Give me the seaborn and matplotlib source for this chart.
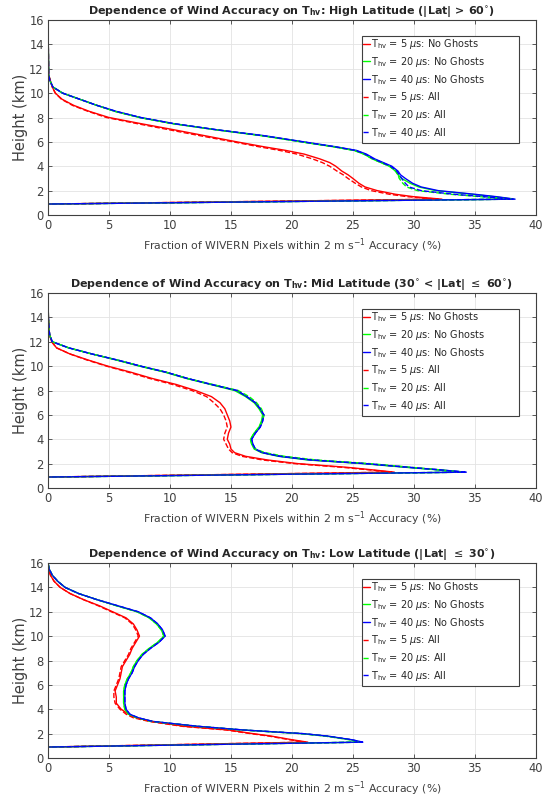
import matplotlib
matplotlib.use('Agg')
import matplotlib.pyplot as plt
from matplotlib.patches import Rectangle
import seaborn as sns

# --- High latitude (|Lat| > 60) ---
h_high = [0, 0.9, 1.3, 1.5, 1.7, 2.0, 2.3, 2.6, 3.0, 3.3, 3.6, 4.0, 4.3, 4.6, 5.0, 5.3, 5.6, 6.0,
          6.5, 7.0, 7.5, 8.0, 8.5, 9.0, 9.5, 10.0, 10.5, 11.0, 11.5, 16.0]
high_5_ng = [0, 0, 32.3, 30.0, 28.5, 27.0, 26.0, 25.5, 25.0, 24.6, 24.1, 23.6, 23.1, 22.3, 21.0, 19.5,
             17.7, 15.5, 12.9, 10.3, 7.6, 5.0, 3.4, 2.1, 1.15, 0.6, 0.35, 0.2, 0.05, 0]
high_20_ng = [0, 0, 38.2, 36.6, 34.8, 31.8, 30.4, 29.7, 29.0, 28.7, 28.5, 28.0, 27.3, 26.6, 25.9, 25.1,
              23.4, 20.8, 17.6, 13.7, 10.2, 7.5, 5.5, 4.0, 2.6, 1.2, 0.4, 0.17, 0.05, 0]
high_40_ng = [0, 0, 38.3, 36.8, 35.0, 32.0, 30.6, 29.9, 29.3, 28.9, 28.7, 28.2, 27.5, 26.8, 26.1, 25.3,
              23.6, 21.0, 17.8, 13.8, 10.3, 7.6, 5.6, 4.0, 2.6, 1.2, 0.4, 0.17, 0.05, 0]
high_5_all = [0, 0, 32.0, 29.5, 28.0, 26.5, 25.7, 25.2, 24.6, 24.2, 23.7, 23.1, 22.5, 21.7, 20.4, 19.0,
              17.3, 15.2, 12.5, 9.9, 7.3, 4.8, 3.3, 2.0, 1.1, 0.6, 0.35, 0.2, 0.05, 0]
high_20_all = [0, 0, 38.0, 35.5, 33.0, 30.3, 29.4, 29.1, 28.8, 28.7, 28.5, 28.0, 27.3, 26.6, 25.9, 25.1,
               23.4, 20.8, 17.6, 13.7, 10.2, 7.5, 5.5, 4.0, 2.6, 1.2, 0.4, 0.17, 0.05, 0]
high_40_all = [0, 0, 38.1, 35.8, 33.3, 30.6, 29.6, 29.3, 29.0, 28.8, 28.6, 28.1, 27.4, 26.7, 26.0, 25.2,
               23.5, 20.9, 17.7, 13.8, 10.3, 7.6, 5.6, 4.0, 2.6, 1.2, 0.4, 0.17, 0.05, 0]

# --- Mid latitude (30 < |Lat| <= 60) ---
h_mid = [0, 0.9, 1.3, 1.5, 1.7, 2.0, 2.3, 2.6, 2.9, 3.2, 3.6, 4.0, 4.5, 5.0, 5.5, 6.0, 6.5, 7.0,
         7.5, 8.0, 8.5, 9.0, 9.5, 10.0, 10.5, 11.0, 11.5, 12.0, 12.5, 13.0, 14.0, 16.0]
mid_5_ng = [0, 0, 28.4, 26.5, 24.5, 20.5, 18.0, 16.2, 15.3, 15.0, 14.9, 14.7, 14.8, 15.0, 14.9, 14.7,
            14.5, 14.1, 13.4, 12.1, 10.5, 8.5, 6.8, 4.9, 3.3, 1.8, 0.7, 0.3, 0.15, 0.08, 0.03, 0]
mid_20_ng = [0, 0, 34.2, 31.8, 29.3, 25.8, 21.3, 18.9, 17.5, 16.9, 16.7, 16.6, 16.9, 17.3, 17.5, 17.6,
             17.3, 16.9, 16.2, 15.3, 13.3, 11.3, 9.6, 7.5, 5.6, 3.6, 1.7, 0.35, 0.15, 0.08, 0.03, 0]
mid_40_ng = [0, 0, 34.3, 32.0, 29.5, 26.0, 21.5, 19.0, 17.6, 17.0, 16.8, 16.7, 17.0, 17.4, 17.6, 17.7,
             17.4, 17.0, 16.3, 15.5, 13.4, 11.4, 9.7, 7.6, 5.7, 3.6, 1.7, 0.35, 0.15, 0.08, 0.03, 0]
mid_5_all = [0, 0, 28.2, 26.2, 24.1, 20.2, 17.6, 15.9, 15.1, 14.8, 14.6, 14.4, 14.5, 14.7, 14.6, 14.4,
             14.1, 13.6, 13.0, 11.8, 10.2, 8.3, 6.6, 4.8, 3.2, 1.8, 0.7, 0.3, 0.15, 0.08, 0.03, 0]
mid_20_all = [0, 0, 34.0, 32.0, 29.8, 26.4, 22.0, 19.4, 17.8, 17.0, 16.7, 16.6, 16.9, 17.3, 17.6, 17.7,
              17.5, 17.1, 16.5, 15.6, 13.5, 11.4, 9.7, 7.6, 5.7, 3.6, 1.7, 0.35, 0.15, 0.08, 0.03, 0]
mid_40_all = [0, 0, 34.2, 32.0, 29.6, 26.1, 21.7, 19.1, 17.6, 17.0, 16.8, 16.7, 17.0, 17.4, 17.6, 17.7,
              17.4, 17.0, 16.3, 15.5, 13.4, 11.4, 9.7, 7.6, 5.7, 3.6, 1.7, 0.35, 0.15, 0.08, 0.03, 0]

# --- Low latitude (|Lat| <= 30) ---
h_low = [0, 0.9, 1.3, 1.5, 1.8, 2.0, 2.3, 2.6, 3.0, 3.3, 3.6, 4.0, 4.5, 5.0, 5.5, 6.0, 6.5, 7.0,
         7.5, 8.0, 8.5, 9.0, 9.5, 10.0, 10.5, 11.0, 11.5, 12.0, 12.5, 13.0, 13.5, 14.0, 14.5, 15.0,
         15.5, 16.0]
low_5_ng = [0, 0, 21.3, 20.0, 18.3, 16.8, 14.8, 11.2, 8.5, 7.2, 6.6, 6.0, 5.6, 5.6, 5.5, 5.7, 5.9, 6.0,
            6.1, 6.4, 6.7, 6.9, 7.2, 7.5, 7.3, 7.0, 6.4, 5.3, 4.2, 2.9, 1.8, 1.0, 0.5, 0.2, 0.05, 0]
low_20_ng = [0, 0, 25.7, 24.8, 22.8, 20.8, 15.9, 12.2, 8.5, 7.3, 6.6, 6.3, 6.2, 6.2, 6.2, 6.3, 6.5, 6.8,
             7.0, 7.3, 7.7, 8.3, 9.0, 9.5, 9.3, 8.9, 8.3, 7.3, 5.6, 4.0, 2.5, 1.4, 0.8, 0.35, 0.1, 0]
low_40_ng = [0, 0, 25.8, 24.9, 22.9, 20.9, 16.0, 12.3, 8.6, 7.4, 6.7, 6.4, 6.3, 6.3, 6.3, 6.4, 6.6, 6.9,
             7.1, 7.4, 7.8, 8.4, 9.1, 9.6, 9.4, 9.0, 8.4, 7.4, 5.7, 4.0, 2.5, 1.4, 0.8, 0.35, 0.1, 0]
low_5_all = [0, 0, 21.1, 19.8, 18.1, 16.6, 14.6, 11.0, 8.3, 7.0, 6.4, 5.9, 5.5, 5.4, 5.4, 5.6, 5.8, 5.9,
             6.0, 6.3, 6.6, 6.8, 7.1, 7.4, 7.2, 6.9, 6.3, 5.2, 4.1, 2.9, 1.8, 1.0, 0.5, 0.2, 0.05, 0]
low_20_all = [0, 0, 25.5, 24.7, 22.7, 20.7, 15.9, 12.2, 8.5, 7.3, 6.6, 6.3, 6.2, 6.2, 6.2, 6.3, 6.5, 6.8,
              7.0, 7.3, 7.7, 8.3, 9.0, 9.5, 9.3, 8.9, 8.3, 7.3, 5.6, 4.0, 2.5, 1.4, 0.8, 0.35, 0.1, 0]
low_40_all = [0, 0, 25.8, 24.9, 22.9, 20.9, 16.0, 12.3, 8.6, 7.4, 6.7, 6.4, 6.3, 6.3, 6.3, 6.4, 6.6, 6.9,
              7.1, 7.4, 7.8, 8.4, 9.1, 9.6, 9.4, 9.0, 8.4, 7.4, 5.7, 4.0, 2.5, 1.4, 0.8, 0.35, 0.1, 0]

titles = [
    r'Dependence of Wind Accuracy on T$_\mathbf{hv}$: High Latitude (|Lat| > 60$^{\circ}$)',
    r'Dependence of Wind Accuracy on T$_\mathbf{hv}$: Mid Latitude (30$^{\circ}$ < |Lat| $\leq$ 60$^{\circ}$)',
    r'Dependence of Wind Accuracy on T$_\mathbf{hv}$: Low Latitude (|Lat| $\leq$ 30$^{\circ}$)',
]
labels = [
    r'T$_{\rm hv}$ = 5 $\mu$s: No Ghosts',
    r'T$_{\rm hv}$ = 20 $\mu$s: No Ghosts',
    r'T$_{\rm hv}$ = 40 $\mu$s: No Ghosts',
    r'T$_{\rm hv}$ = 5 $\mu$s: All',
    r'T$_{\rm hv}$ = 20 $\mu$s: All',
    r'T$_{\rm hv}$ = 40 $\mu$s: All',
]
colors = ['#ff0000', '#00ff00', '#0000ff', '#ff0000', '#00ff00', '#0000ff']
styles = ['-', '-', '-', '--', '--', '--']

panels = [
    (h_high, [high_5_ng, high_20_ng, high_40_ng, high_5_all, high_20_all, high_40_all]),
    (h_mid, [mid_5_ng, mid_20_ng, mid_40_ng, mid_5_all, mid_20_all, mid_40_all]),
    (h_low, [low_5_ng, low_20_ng, low_40_ng, low_5_all, low_20_all, low_40_all]),
]

sns.set_style('whitegrid', {'grid.color': '#e3e3e3', 'axes.edgecolor': '#404040'})
plt.rcParams['font.family'] = ['DejaVu Sans']
plt.rcParams['mathtext.fontset'] = 'dejavusans'

fig = plt.figure(figsize=(5.42, 8.0), dpi=100)
bottoms = [0.73125, 0.39, 0.0525]
grey = '#404040'

for i, (heights, series) in enumerate(panels):
    ax = fig.add_axes([0.0886, bottoms[i], 0.900, 0.2437])
    for vals, c, ls, lab in zip(series, colors, styles, labels):
        sns.lineplot(x=vals, y=heights, sort=False, estimator=None, color=c,
                     linestyle=ls, linewidth=1.0, label=lab, ax=ax)
    ax.set_xlim(0, 40)
    ax.set_ylim(0, 16)
    ax.set_xticks(range(0, 41, 5))
    ax.set_yticks(range(0, 17, 2))
    ax.tick_params(direction='in', length=3, width=0.6, colors=grey, labelsize=8.3,
                   top=True, right=True, bottom=True, left=True, pad=3)
    for sp in ax.spines.values():
        sp.set_linewidth(0.8)
        sp.set_color(grey)
    ax.grid(True, color='#e3e3e3', linewidth=0.6)
    ax.set_title(titles[i], fontsize=8, fontweight='bold', pad=4)
    ax.set_xlabel(r'Fraction of WIVERN Pixels within 2 m s$^{-1}$ Accuracy (%)',
                  fontsize=7.8, color=grey, labelpad=3)
    ax.set_ylabel('Height (km)', fontsize=10.5, color=grey, labelpad=1)

    # MATLAB-style legend box: wide frame with the entries packed to the left
    ax.add_patch(Rectangle((0.643, 0.369), 0.322, 0.55, transform=ax.transAxes,
                           facecolor='white', edgecolor=grey, linewidth=0.8, zorder=4))
    leg = ax.legend(loc='upper left', bbox_to_anchor=(0.645, 0.912), fontsize=7,
                    handlelength=0.75, handletextpad=0.15, borderpad=0, borderaxespad=0,
                    labelspacing=0.38, frameon=False)
    leg.set_zorder(5)

fig.savefig('out.png', dpi=100)
